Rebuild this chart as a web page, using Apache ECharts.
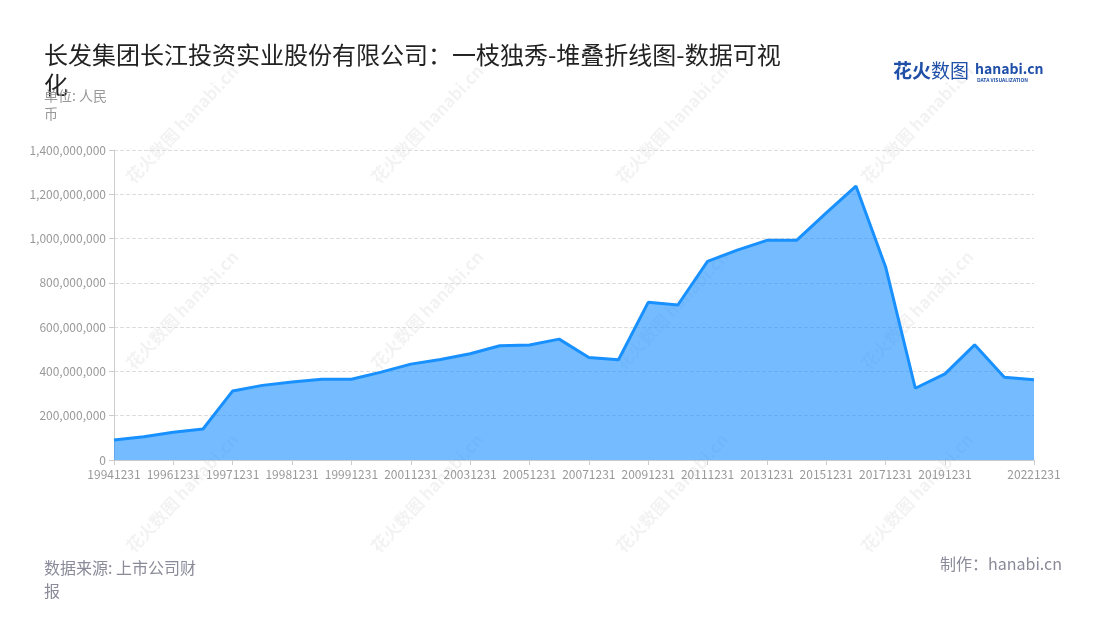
<!DOCTYPE html>
<html>
<head>
<meta charset="utf-8">
<script src="https://cdn.jsdelivr.net/npm/echarts@6/dist/echarts.min.js"></script>
<style>html,body{margin:0;padding:0;background:#fff}#c{width:1100px;height:620px}</style>
</head>
<body>
<div id="c"></div>
<script>
const categories = ['19941231','19951231','19961231','19970630','19971231','19980630','19981231','19990630','19991231','20001231','20011231','20021231','20031231','20041231','20051231','20061231','20071231','20081231','20091231','20101231','20111231','20121231','20131231','20141231','20151231','20161231','20171231','20181231','20191231','20201231','20211231','20221231'];
const values = [90e6,105e6,125e6,140e6,312e6,337e6,352e6,365e6,365e6,397e6,433e6,454e6,480e6,516e6,519e6,546e6,463e6,453e6,712e6,700e6,897e6,948e6,992e6,992e6,1116e6,1237e6,872e6,324e6,389e6,520e6,374e6,362e6];
const titleText = '长发集团长江投资实业股份有限公司：一枝独秀-堆叠折线图-数据可视化';
const unitText = '单位: 人民币';
const sourceText = '数据来源: 上市公司财报';
const makerText = '制作：hanabi.cn';

const FONT = '"Noto Sans CJK SC", "Noto Sans", sans-serif';
const chart = echarts.init(document.getElementById('c'));
const last = categories.length - 1;
const showIdx = (i) => i === last || (i % 2 === 0 && i < last - 1);

const wm = [];
[182,427,672,917].forEach(x => [124,310,493].forEach(y => {
  wm.push({type:'text', x:x, y:y, rotation:0.82, z:-1, silent:true,
    style:{text:'花火数图 hanabi.cn', fill:'rgba(0,0,0,0.05)', font:'bold 17px ' + FONT, align:'center', verticalAlign:'middle'}});
}));

chart.setOption({
  backgroundColor:'#fff',
  animation:false,
  title:[
    {left:44, top:40, padding:0, text:titleText, textStyle:{fontFamily:FONT, fontSize:24, fontWeight:'normal', color:'#222', width:748, overflow:'break', lineHeight:30}},
    {left:44, top:87, padding:0, text:unitText, textStyle:{fontFamily:FONT, fontSize:14, fontWeight:'normal', color:'#999', width:76, overflow:'break', lineHeight:18}},
    {left:44, top:556, padding:0, text:sourceText, textStyle:{fontFamily:FONT, fontSize:16, fontWeight:'normal', color:'#8a8a99', width:175, overflow:'break', lineHeight:23}},
    {right:38, top:556, padding:0, text:makerText, textStyle:{fontFamily:FONT, fontSize:16, fontWeight:'normal', color:'#8a8a99'}}
  ],
  graphic:[
    ...wm,
    {type:'text', left:893, top:61, style:{text:'花火', fill:'#1f4fa8', font:'bold 19px ' + FONT}},
    {type:'text', left:931, top:61, style:{text:'数图', fill:'#1f4fa8', font:'normal 19px ' + FONT}},
    {type:'text', left:975, top:62, style:{text:'hanabi.cn', fill:'#1f4fa8', font:'bold 14px ' + FONT}},
    {type:'text', left:977, top:78, style:{text:'DATA VISUALIZATION', fill:'#1f4fa8', font:'bold 5px ' + FONT}}
  ],
  grid:{left:114, right:66, top:150, bottom:160},
  xAxis:{
    type:'category', data:categories, boundaryGap:false,
    axisLine:{lineStyle:{color:'#ccc'}},
    axisTick:{show:true, interval:(i)=>showIdx(i), lineStyle:{color:'#ccc'}},
    axisLabel:{interval:(i)=>showIdx(i), color:'#999', fontSize:12, fontFamily:FONT, margin:8, showMaxLabel:true}
  },
  yAxis:{
    type:'value', min:0, max:1400000000, interval:200000000,
    axisLine:{show:true, lineStyle:{color:'#ccc'}},
    axisTick:{show:true, lineStyle:{color:'#ccc'}},
    axisLabel:{color:'#999', fontSize:12, fontFamily:FONT, formatter:(v)=>v.toLocaleString('en-US')},
    splitLine:{lineStyle:{color:'#ddd', type:'dashed'}}
  },
  series:[{
    type:'line', data:values, symbol:'none', stack:'total',
    lineStyle:{color:'#1890ff', width:3},
    areaStyle:{color:'#1890ff', opacity:0.6},
    itemStyle:{color:'#1890ff'}
  }]
});
</script>
</body>
</html>
